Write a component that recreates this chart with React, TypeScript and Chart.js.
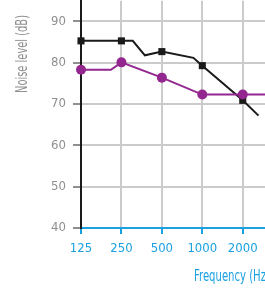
import React, { useEffect, useRef } from "react";
import { Chart, registerables } from "chart.js";

Chart.register(...registerables);

const tickLabels = ["125", "250", "500", "1000", "2000"];
const yTicks = [40, 50, 60, 70, 80, 90];
// x in octave steps from 125 Hz (0 = 125, 1 = 250, ...)
const blackX = [0, 1, 1.28, 1.58, 2, 2.78, 3, 4, 4.39];
const blackY = [85.3, 85.3, 85.3, 81.8, 82.7, 81.2, 79.3, 70.9, 67.2];
const purpleX = [0, 0.74, 1, 2, 3, 4, 4.7];
const purpleY = [78.3, 78.3, 80.1, 76.4, 72.3, 72.3, 72.3];
const yTitle = "Noise level (dB)";
const xTitle = "Frequency (Hz)";

const CYAN = "#1ba1e2";
const GRAY = "#8f8f8f";
const GRID = "#cbcbcb";
const PURPLE = "#93278f";
const BLACK = "#1a1a1a";
const FAMILY = "'DejaVu Sans', sans-serif";
const STRETCH = "condensed";
const SHIFT = 14; // canvas offset upward so the plot top meets the page top

export default function App() {
  const ref = useRef<HTMLCanvasElement>(null);
  useEffect(() => {
    if (!ref.current) return;
    const isTick = (ctx: any) => {
      const raw = ctx.raw as { x: number };
      return raw && Number.isInteger(raw.x) && raw.x <= 4;
    };
    const titles = {
      id: "titles",
      afterDraw(chart: any) {
        const c = chart.ctx;
        // y title
        c.save();
        c.font = `normal ${STRETCH} 15px ${FAMILY}`;
        c.fillStyle = GRAY;
        c.textAlign = "center";
        c.textBaseline = "middle";
        const wy = c.measureText(yTitle).width;
        c.translate(23, 54 + SHIFT);
        c.rotate(-Math.PI / 2);
        c.scale(78 / wy, 1);
        c.fillText(yTitle, 0, 0);
        c.restore();
        // x title
        c.save();
        c.font = `normal ${STRETCH} 15px ${FAMILY}`;
        c.fillStyle = CYAN;
        c.textAlign = "left";
        c.textBaseline = "middle";
        const wx = c.measureText(xTitle.slice(0, 13)).width;
        c.translate(194, 277 + SHIFT);
        c.scale(72 / wx, 1);
        c.fillText(xTitle, 0, 0);
        c.restore();
      },
    };
    const chart = new Chart(ref.current, {
      type: "line",
      data: {
        datasets: [
          {
            data: purpleX.map((x, i) => ({ x, y: purpleY[i] })),
            borderColor: PURPLE,
            backgroundColor: PURPLE,
            borderWidth: 2,
            pointStyle: "circle",
            pointRadius: (ctx: any) => (isTick(ctx) ? 5 : 0),
            pointBorderWidth: 0,
            clip: false as any,
          },
          {
            data: blackX.map((x, i) => ({ x, y: blackY[i] })),
            borderColor: BLACK,
            backgroundColor: BLACK,
            borderWidth: 2,
            pointStyle: "rect",
            pointRadius: (ctx: any) => (isTick(ctx) ? 5 : 0),
            pointBorderWidth: 0,
            clip: false as any,
          },
        ],
      },
      options: {
        animation: false,
        responsive: false,
        layout: { padding: 0 },
        plugins: { legend: { display: false }, tooltip: { enabled: false } },
        scales: {
          x: {
            type: "linear",
            min: 0,
            max: 4.6,
            afterBuildTicks: (s: any) => {
              s.ticks = tickLabels.map((_, i) => ({ value: i }));
            },
            afterFit: (s: any) => {
              s.height = 60;
            },
            ticks: {
              callback: (v: any) => tickLabels[v as number] ?? "",
              color: CYAN,
              font: { family: FAMILY, size: 13, style: "normal", weight: STRETCH as any },
              padding: 7,
              maxRotation: 0,
            },
            grid: {
              color: GRID,
              lineWidth: 2,
              tickColor: CYAN,
              tickLength: 6,
              drawOnChartArea: true,
            },
            border: { color: CYAN, width: 2 },
          },
          y: {
            min: 40,
            max: 95,
            afterBuildTicks: (s: any) => {
              s.ticks = yTicks.map((v) => ({ value: v }));
            },
            afterFit: (s: any) => {
              s.width = 81;
            },
            ticks: {
              color: GRAY,
              font: { family: FAMILY, size: 13, style: "normal", weight: STRETCH as any },
              padding: 7,
            },
            grid: {
              color: GRID,
              lineWidth: 2,
              tickColor: GRAY,
              tickLength: 8,
            },
            border: { color: BLACK, width: 2 },
          },
        },
      },
      plugins: [titles],
    });
    return () => chart.destroy();
  }, []);
  return (
    <div style={{ position: "fixed", left: 0, top: -SHIFT, width: 272, height: 288 + SHIFT, overflow: "hidden" }}>
      <canvas ref={ref} width={272} height={288 + SHIFT} style={{ width: 272, height: 288 + SHIFT }} />
    </div>
  );
}
